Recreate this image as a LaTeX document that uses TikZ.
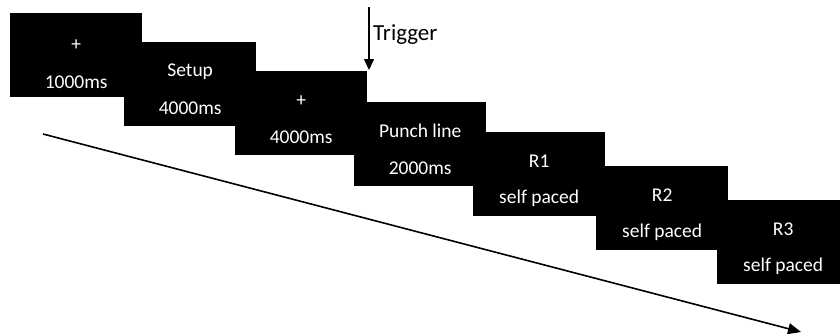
\documentclass[tikz,border=0pt]{standalone}
\usepackage{fontspec}
\setmainfont{Carlito}
\usetikzlibrary{arrows.meta,calc}
\begin{document}
\begin{tikzpicture}[x=1pt,y=-1pt,
  screen/.style={fill=black,draw=none,inner sep=0pt,minimum width=132pt,minimum height=84pt,anchor=north west},
  txt/.style={text=white,font=\fontsize{19.5}{22}\selectfont,inner sep=0pt,anchor=center},
  trig/.style={font=\fontsize{23}{26}\selectfont,inner sep=0pt,anchor=west}]
\useasboundingbox (0,0) rectangle (840,333);
\clip (0,0) rectangle (840,333);
\node[screen] (b1) at (10,13) {};
\node[screen] (b2) at (124,42) {};
\node[screen] (b3) at (235,71) {};
\node[screen] (b4) at (354,102) {};
\node[screen] (b5) at (473,132) {};
\node[screen] (b6) at (596,166) {};
\node[screen] (b7) at (717,200) {};
\node[txt] (t1a) at ($(b1.north)+(0,32)$) {+};
\node[txt] (t1b) at ($(b1.north)+(0,69)$) {1000ms};
\node[txt] (t2a) at ($(b2.north)+(0,30)$) {Setup};
\node[txt] (t2b) at ($(b2.north)+(0,66)$) {4000ms};
\node[txt] (t3a) at ($(b3.north)+(0,30)$) {+};
\node[txt] (t3b) at ($(b3.north)+(0,66)$) {4000ms};
\node[txt] (t4a) at ($(b4.north)+(0,29)$) {Punch line};
\node[txt] (t4b) at ($(b4.north)+(0,66)$) {2000ms};
\node[txt] (t5a) at ($(b5.north)+(0,29)$) {R1};
\node[txt] (t5b) at ($(b5.north)+(0,66)$) {self paced};
\node[txt] (t6a) at ($(b6.north)+(0,29)$) {R2};
\node[txt] (t6b) at ($(b6.north)+(0,66)$) {self paced};
\node[txt] (t7a) at ($(b7.north)+(0,29)$) {R3};
\node[txt] (t7b) at ($(b7.north)+(0,66)$) {self paced};
\coordinate (ttop) at (369,7);
\coordinate (ttip) at (369,70);
\draw[line width=1.3pt,-{Triangle[length=11pt,width=10pt]}] (ttop) -- (ttip);
\node[trig] (trigger) at (373,35) {Trigger};
\coordinate (astart) at (43,134);
\coordinate (aend) at (801,332);
\draw[line width=1.6pt,-{Triangle[length=13pt,width=11pt]}] (astart) -- (aend);
\end{tikzpicture}
\end{document}
